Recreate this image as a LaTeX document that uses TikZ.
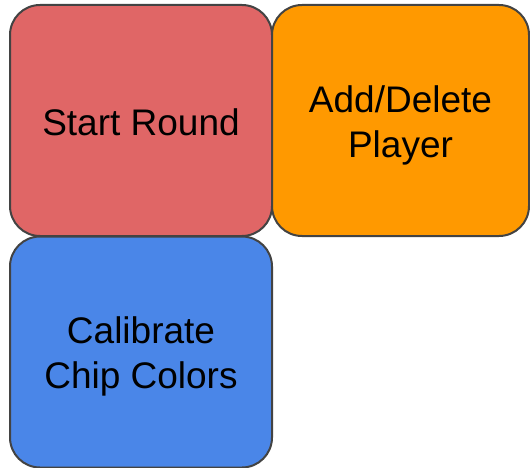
\documentclass[tikz,border=0pt]{standalone}
\usepackage{fontspec}
\setmainfont{Liberation Sans}
\definecolor{tilered}{HTML}{E06666}
\definecolor{tileorange}{HTML}{FF9900}
\definecolor{tileblue}{HTML}{4A86E8}
\definecolor{tileedge}{HTML}{434343}
\begin{document}
\begin{tikzpicture}[x=1pt,y=-1pt,
  tile/.style={draw=tileedge, line width=2pt, rounded corners=30pt,
    minimum width=#1, minimum height=231pt, inner sep=0pt},
  tile/.default=262pt,
  caption/.style={align=center, text=black, inner sep=0pt,
    font=\fontsize{37}{45}\selectfont}]
  \useasboundingbox (0,0) rectangle (530,468);
  % the three rounded tiles
  \node[tile, fill=tilered] (start) at (141,120.5) {};
  \node[tile=257pt, fill=tileorange] (player) at (400.5,120.5) {};
  \node[tile, fill=tileblue] (calib) at (141,352) {};
  % their captions, set a little below the tile centres
  \node[caption] (start-text) at ([yshift=-2pt]start.center) {Start Round};
  \node[caption] (player-text) at ([yshift=-4.5pt]player.center) {Add/Delete\\Player};
  \node[caption] (calib-text) at ([yshift=-4.5pt]calib.center) {Calibrate\\Chip Colors};
\end{tikzpicture}
\end{document}
